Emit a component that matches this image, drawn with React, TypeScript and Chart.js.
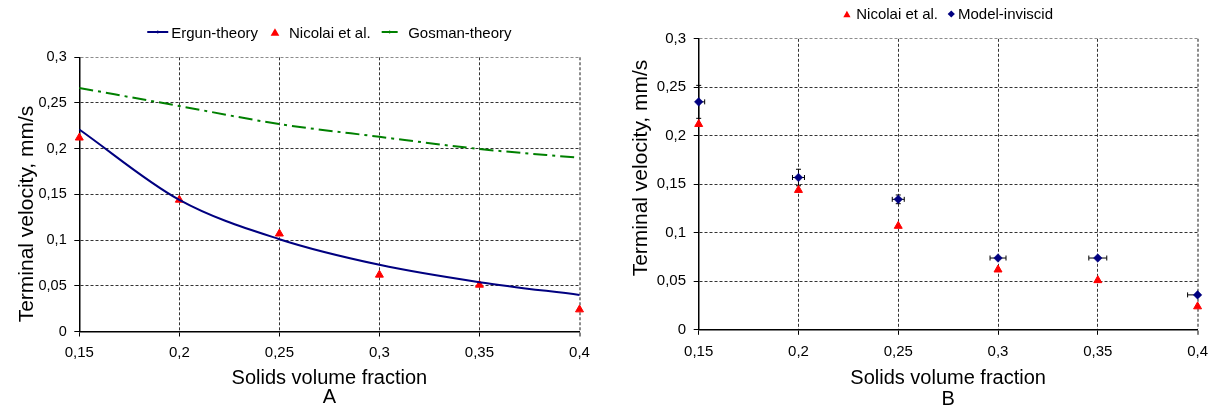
import React, { useEffect, useRef } from 'react';
import { Chart, registerables } from 'chart.js';

Chart.register(...registerables);

const FONT = '"Liberation Sans", Arial, Helvetica, sans-serif';
const NAVY = '#000080';
const RED = '#ff0000';
const GREEN = '#008000';

// ---- data ----
const solidsFraction = [0.15, 0.2, 0.25, 0.3, 0.35, 0.4];
const ergunTheory = [0.221, 0.144, 0.101, 0.073, 0.054, 0.04];
const gosmanTheory = [0.2665, 0.2467, 0.227, 0.213, 0.1997, 0.19];
const nicolaiData = [0.212, 0.144, 0.107, 0.062, 0.051, 0.024];
const modelInviscid = [0.235, 0.157, 0.1345, 0.074, 0.074, 0.036];
const modelXErr = [0.003, 0.003, 0.003, 0.004, 0.0045, 0.005];
const modelYErr = [0.017, 0.0085, 0.0045, 0, 0, 0];

const xTickValues = [0.15, 0.2, 0.25, 0.3, 0.35, 0.4];
const yTickValues = [0, 0.05, 0.1, 0.15, 0.2, 0.25, 0.3];

const seriesLabels = ['Ergun-theory', 'Nicolai et al.', 'Gosman-theory', 'Model-inviscid'];
const xAxisTitle = 'Solids volume fraction';
const yAxisTitle = 'Terminal velocity, mm/s';
const panelLabels = ['A', 'B'];

const pts = (ys: number[]) => solidsFraction.map((x, i) => ({ x, y: ys[i] }));
const fmt = (v: number) => String(parseFloat(Number(v).toFixed(2))).replace('.', ',');

function drawTri(ctx: CanvasRenderingContext2D, cx: number, cy: number, r: number, color: string) {
  ctx.beginPath();
  ctx.moveTo(cx, cy - r);
  ctx.lineTo(cx + r * 0.866, cy + r * 0.5);
  ctx.lineTo(cx - r * 0.866, cy + r * 0.5);
  ctx.closePath();
  ctx.fillStyle = color;
  ctx.fill();
}
function drawDiamond(ctx: CanvasRenderingContext2D, cx: number, cy: number, r: number, color: string) {
  ctx.beginPath();
  ctx.moveTo(cx, cy - r);
  ctx.lineTo(cx + r, cy);
  ctx.lineTo(cx, cy + r);
  ctx.lineTo(cx - r, cy);
  ctx.closePath();
  ctx.fillStyle = color;
  ctx.fill();
}

const decorPlugin = {
  id: 'decor',
  beforeDatasetsDraw(chart: any, _args: any, opts: any) {
    if (!opts.errors) return;
    const { ctx, scales } = chart;
    const xs = scales.x, ys = scales.y;
    const e = opts.errors;
    ctx.save();
    ctx.strokeStyle = '#000';
    ctx.lineWidth = 1;
    e.x.forEach((xv: number, i: number) => {
      const px = xs.getPixelForValue(xv);
      const py = ys.getPixelForValue(e.y[i]);
      const xl = Math.max(xs.getPixelForValue(xv - e.xe[i]), chart.chartArea.left);
      const xr = Math.min(xs.getPixelForValue(xv + e.xe[i]), chart.chartArea.right);
      ctx.beginPath();
      ctx.moveTo(xl, py); ctx.lineTo(xr, py);
      if (xs.getPixelForValue(xv - e.xe[i]) >= chart.chartArea.left - 0.5) { ctx.moveTo(xl, py - 2.5); ctx.lineTo(xl, py + 2.5); }
      if (xs.getPixelForValue(xv + e.xe[i]) <= chart.chartArea.right + 0.5) { ctx.moveTo(xr, py - 2.5); ctx.lineTo(xr, py + 2.5); }
      if (e.ye[i] > 0) {
        const yt = ys.getPixelForValue(e.y[i] + e.ye[i]);
        const yb = ys.getPixelForValue(e.y[i] - e.ye[i]);
        ctx.moveTo(px, yt); ctx.lineTo(px, yb);
        ctx.moveTo(px - 2.5, yt); ctx.lineTo(px + 2.5, yt);
        ctx.moveTo(px - 2.5, yb); ctx.lineTo(px + 2.5, yb);
      }
      ctx.stroke();
    });
    ctx.restore();
  },
  afterDraw(chart: any, _args: any, opts: any) {
    const { ctx, chartArea } = chart;
    ctx.save();
    ctx.fillStyle = '#000';
    // axis titles
    const cx = (chartArea.left + chartArea.right) / 2;
    ctx.font = `20px ${FONT}`;
    ctx.textAlign = 'center';
    ctx.textBaseline = 'alphabetic';
    ctx.fillText(xAxisTitle, cx, opts.xTitleY);
    ctx.fillText(opts.panel, cx, opts.panelY);
    ctx.save();
    ctx.translate(opts.yTitleX, opts.yTitleCY);
    ctx.rotate(-Math.PI / 2);
    ctx.font = `21px ${FONT}`;
    ctx.fillText(yAxisTitle, 0, 0);
    ctx.restore();
    // legend
    ctx.font = `15px ${FONT}`;
    ctx.textAlign = 'left';
    const items = opts.legend as any[];
    let total = 0;
    items.forEach((it) => {
      if (it.gap) total += it.gap;
      else if (it.t) total += ctx.measureText(it.t).width;
      else total += it.w;
    });
    let x = cx - total / 2;
    const cy = opts.legendCY;
    items.forEach((it) => {
      if (it.gap) { x += it.gap; return; }
      if (it.t) {
        ctx.fillStyle = '#000';
        ctx.fillText(it.t, x, opts.legendBase);
        x += ctx.measureText(it.t).width;
        return;
      }
      if (it.m === 'line') {
        ctx.strokeStyle = it.color;
        ctx.lineWidth = 2;
        ctx.beginPath();
        ctx.moveTo(x, cy); ctx.lineTo(x + it.w, cy);
        ctx.stroke();
        ctx.lineWidth = 1;
        ctx.beginPath();
        ctx.moveTo(x + it.w / 2, cy - 1.5); ctx.lineTo(x + it.w / 2, cy + 1.5);
        ctx.stroke();
      } else if (it.m === 'tri') {
        drawTri(ctx, x + it.w / 2, cy + it.r * 0.25, it.r, RED);
      } else if (it.m === 'diamond') {
        drawDiamond(ctx, x + it.w / 2, cy, it.r, NAVY);
      }
      x += it.w;
    });
    ctx.restore();
  },
};

function makeScales(yWidth: number, xHeight: number, tickSizeY: number, tickSizeX: number, padX: number, padY: number) {
  return {
    x: {
      type: 'linear',
      min: 0.15,
      max: 0.4,
      afterBuildTicks: (s: any) => { s.ticks = xTickValues.map((v) => ({ value: v })); },
      afterFit: (s: any) => { s.height = xHeight; },
      ticks: {
        callback: (v: any) => fmt(v),
        font: { family: FONT, size: tickSizeX },
        color: '#000',
        padding: padX,
        maxRotation: 0,
        autoSkip: false,
      },
      grid: {
        color: (c: any) => (c.tick && c.tick.value > 0.399 ? '#8c8c8c' : '#333333'),
        lineWidth: (c: any) => (c.tick && c.tick.value > 0.399 ? 2 : 1),
        tickLength: 5,
        tickColor: '#000',
        tickWidth: 1,
      },
      border: { display: true, color: '#000', width: 1.5, dash: [3, 2] },
    },
    y: {
      type: 'linear',
      min: 0,
      max: 0.3,
      afterBuildTicks: (s: any) => { s.ticks = yTickValues.map((v) => ({ value: v })); },
      afterFit: (s: any) => { s.width = yWidth; },
      ticks: {
        callback: (v: any) => fmt(v),
        font: { family: FONT, size: tickSizeY },
        color: '#000',
        padding: padY,
        autoSkip: false,
      },
      grid: {
        color: (c: any) => (c.tick && c.tick.value > 0.299 ? '#8c8c8c' : '#333333'),
        lineWidth: 1,
        tickLength: 5,
        tickColor: '#000',
        tickWidth: 1,
      },
      border: { display: true, color: '#000', width: 1.5, dash: [3, 2] },
    },
  };
}

function leftConfig(): any {
  return {
    type: 'scatter',
    data: {
      datasets: [
        {
          label: seriesLabels[0],
          data: pts(ergunTheory),
          showLine: true,
          borderColor: NAVY,
          borderWidth: 2,
          pointRadius: 0,
          cubicInterpolationMode: 'monotone',
          clip: false,
        },
        {
          label: seriesLabels[2],
          data: pts(gosmanTheory),
          showLine: true,
          borderColor: GREEN,
          borderWidth: 2,
          borderDash: [14, 5, 3, 5],
          pointRadius: 0,
          cubicInterpolationMode: 'monotone',
          clip: false,
        },
        {
          label: seriesLabels[1],
          data: pts(nicolaiData),
          pointStyle: 'triangle',
          pointRadius: 4.6,
          backgroundColor: RED,
          borderColor: RED,
          borderWidth: 1,
          clip: false,
        },
      ],
    },
    options: {
      responsive: false,
      animation: false,
      devicePixelRatio: 1,
      events: [],
      layout: { padding: { left: 0, top: 57.3, right: 20.5, bottom: 0 } },
      scales: makeScales(79.3, 78.5, 14.5, 15, 7, 7.6),
      plugins: {
        legend: { display: false },
        tooltip: { enabled: false },
        decor: {
          panel: panelLabels[0],
          xTitleY: 384.3,
          panelY: 403.3,
          yTitleX: 32.5,
          yTitleCY: 214,
          legendCY: 32,
          legendBase: 38.3,
          legend: [
            { m: 'line', color: NAVY, w: 21 }, { gap: 3 }, { t: seriesLabels[0] }, { gap: 12.5 },
            { m: 'tri', w: 9, r: 5 }, { gap: 9.5 }, { t: seriesLabels[1] }, { gap: 11 },
            { m: 'line', color: GREEN, w: 16 }, { gap: 10.5 }, { t: seriesLabels[2] },
          ],
        },
      },
    },
    plugins: [decorPlugin],
  };
}

function rightConfig(): any {
  return {
    type: 'scatter',
    data: {
      datasets: [
        {
          label: seriesLabels[1],
          data: pts(nicolaiData),
          pointStyle: 'triangle',
          pointRadius: 4.6,
          backgroundColor: RED,
          borderColor: RED,
          borderWidth: 1,
          clip: false,
        },
        {
          label: seriesLabels[3],
          data: pts(modelInviscid),
          pointStyle: 'rectRot',
          pointRadius: 4.3,
          backgroundColor: NAVY,
          borderColor: NAVY,
          borderWidth: 0.5,
          clip: false,
        },
      ],
    },
    options: {
      responsive: false,
      animation: false,
      devicePixelRatio: 1,
      events: [],
      layout: { padding: { left: 0, top: 38.8, right: 17.3, bottom: 0 } },
      scales: makeScales(98.7, 80.2, 15, 15, 8, 7.7),
      plugins: {
        legend: { display: false },
        tooltip: { enabled: false },
        decor: {
          panel: panelLabels[1],
          xTitleY: 384,
          panelY: 405,
          yTitleX: 46.5,
          yTitleCY: 168,
          legendCY: 14,
          legendBase: 19,
          errors: { x: solidsFraction, y: modelInviscid, xe: modelXErr, ye: modelYErr },
          legend: [
            { m: 'tri', w: 7.3, r: 4.2 }, { gap: 5.7 }, { t: seriesLabels[1] }, { gap: 9.8 },
            { m: 'diamond', w: 7, r: 3.6 }, { gap: 3.2 }, { t: seriesLabels[3] },
          ],
        },
      },
    },
    plugins: [decorPlugin],
  };
}

export default function App() {
  const leftRef = useRef<HTMLCanvasElement>(null);
  const rightRef = useRef<HTMLCanvasElement>(null);
  useEffect(() => {
    const a = new Chart(leftRef.current as HTMLCanvasElement, leftConfig());
    const b = new Chart(rightRef.current as HTMLCanvasElement, rightConfig());
    return () => {
      a.destroy();
      b.destroy();
    };
  }, []);
  return (
    <div style={{ position: 'fixed', left: 0, top: 0, width: 1216, height: 410, background: '#fff' }}>
      <canvas ref={leftRef} width={600} height={410} style={{ position: 'absolute', left: 0, top: 0, width: 600, height: 410 }} />
      <canvas ref={rightRef} width={616} height={410} style={{ position: 'absolute', left: 600, top: 0, width: 616, height: 410 }} />
    </div>
  );
}
